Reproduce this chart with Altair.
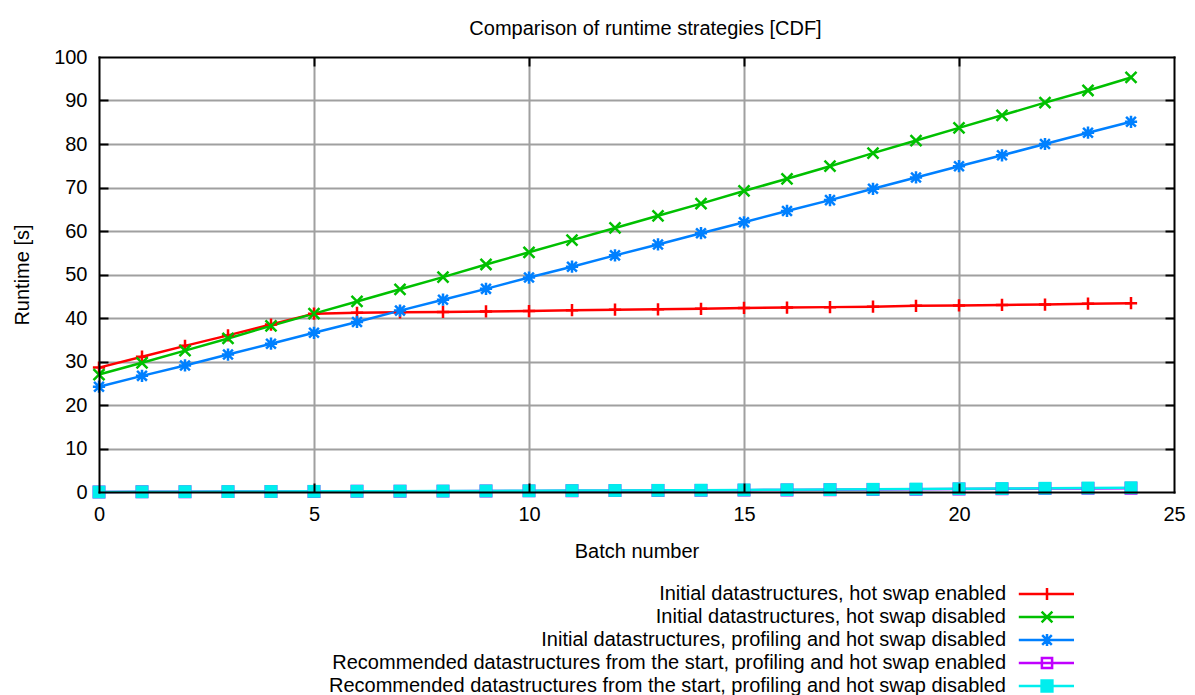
import altair as alt
import pandas as pd

# Batch numbers on the x axis
batch = [0, 1, 2, 3, 4, 5, 6, 7, 8, 9, 10, 11, 12, 13, 14, 15, 16, 17, 18, 19, 20, 21, 22, 23, 24]

# Cumulative runtime [s] per strategy
hot_swap_enabled = [28.6, 31.1, 33.6, 36.0, 38.5, 41.0, 41.2, 41.3, 41.4, 41.5, 41.6, 41.8, 41.9,
                    42.0, 42.1, 42.3, 42.4, 42.5, 42.6, 42.8, 42.9, 43.0, 43.1, 43.3, 43.4]
hot_swap_disabled = [27.0, 29.7, 32.5, 35.3, 38.2, 41.0, 43.8, 46.6, 49.4, 52.3, 55.1, 57.9, 60.7,
                     63.5, 66.3, 69.2, 72.0, 74.9, 77.9, 80.8, 83.7, 86.6, 89.5, 92.3, 95.3]
profiling_hot_swap_disabled = [24.2, 26.7, 29.1, 31.6, 34.1, 36.6, 39.1, 41.7, 44.2, 46.7, 49.3, 51.8, 54.4,
                               56.9, 59.5, 62.0, 64.6, 67.1, 69.7, 72.3, 74.9, 77.4, 80.0, 82.6, 85.1]
recommended_enabled = [0.0, 0.04, 0.07, 0.09, 0.11, 0.13, 0.16, 0.18, 0.2, 0.22, 0.25, 0.28, 0.31,
                       0.34, 0.38, 0.43, 0.47, 0.51, 0.56, 0.61, 0.68, 0.72, 0.78, 0.83, 0.88]
recommended_disabled = [0.0, 0.05, 0.08, 0.1, 0.12, 0.15, 0.18, 0.2, 0.22, 0.25, 0.28, 0.32, 0.35,
                        0.38, 0.42, 0.48, 0.52, 0.56, 0.62, 0.68, 0.75, 0.8, 0.86, 0.92, 0.98]

series_names = [
    "Initial datastructures, hot swap enabled",
    "Initial datastructures, hot swap disabled",
    "Initial datastructures, profiling and hot swap disabled",
    "Recommended datastructures from the start, profiling and hot swap enabled",
    "Recommended datastructures from the start, profiling and hot swap disabled",
]
series_values = [hot_swap_enabled, hot_swap_disabled, profiling_hot_swap_disabled,
                 recommended_enabled, recommended_disabled]
series_colors = ["#ff0000", "#00c000", "#0080ff", "#c000ff", "#00eeee"]

# Point markers (plus, cross, asterisk, open square, filled square)
markers = [
    "M-1,0H1M0,-1V1",
    "M-0.9,-0.9L0.9,0.9M-0.9,0.9L0.9,-0.9",
    "M-1,0H1M0,-1V1M-0.8,-0.8L0.8,0.8M-0.8,0.8L0.8,-0.8",
    "M-0.85,-0.85H0.85V0.85H-0.85Z",
    "M-1.05,-1.05H1.05V1.05H-1.05Z",
]
marker_filled = [False, False, False, False, True]

# Key samples: a line segment with the marker on top, drawn to the right of the label
key_symbols = [
    "M3.8,0H13M8.5,0M7.5,0H9.5M8.5,-1V1",
    "M3.8,0H13M7.6,-0.9L9.4,0.9M7.6,0.9L9.4,-0.9",
    "M3.8,0H13M7.5,0H9.5M8.5,-1V1M7.7,-0.8L9.3,0.8M7.7,0.8L9.3,-0.8",
    "M3.8,0H13M7.65,-0.85H9.35V0.85H7.65Z",
    "M3.8,0H7.6M9.4,0H13M7.6,-0.9H9.4V0.9H7.6Z",
]
key_fills = ["transparent", "transparent", "transparent", "transparent", "#00eeee"]

rows = []
for name, hexcol, values in zip(series_names, series_colors, series_values):
    for b, v in zip(batch, values):
        rows.append({"batch": b, "runtime": v, "series": name, "hex": hexcol})
df = pd.DataFrame(rows)

W, H = 1075, 435
FONT = "Liberation Sans"
FS = 20

x_scale = alt.Scale(domain=[0, 25], nice=False, zero=False)
y_scale = alt.Scale(domain=[0, 100], nice=False, zero=False)

x_ticks = [0, 5, 10, 15, 20, 25]
x_inner = [5, 10, 15, 20]
y_ticks = [0, 10, 20, 30, 40, 50, 60, 70, 80, 90, 100]
y_inner = [10, 20, 30, 40, 50, 60, 70, 80, 90]

# Grid only
x_grid = alt.Axis(orient="bottom", values=x_inner, grid=True, gridColor="#a0a0a0", gridWidth=2,
                  labels=False, ticks=False, domain=False, title=None, zindex=0)
y_grid = alt.Axis(orient="left", values=y_inner, grid=True, gridColor="#a0a0a0", gridWidth=2,
                  labels=False, ticks=False, domain=False, title=None, zindex=0)

# Labelled axes with the bottom and left border
x_main = alt.Axis(orient="bottom", values=x_ticks, grid=False, ticks=False, tickSize=0,
                  domain=True, domainColor="black", domainWidth=2, domainCap="square",
                  labelFont=FONT, labelFontSize=FS, labelColor="black", labelPadding=12,
                  labelFlush=False, labelOverlap=False,
                  title="Batch number", titleFont=FONT, titleFontSize=FS, titleFontWeight="normal",
                  titleColor="black", titleX=W / 2, titleY=59, titleBaseline="middle",
                  titleAlign="center", zindex=1)
y_main = alt.Axis(orient="left", values=y_ticks, grid=False, ticks=False, tickSize=0,
                  domain=True, domainColor="black", domainWidth=2, domainCap="square",
                  labelFont=FONT, labelFontSize=FS, labelColor="black", labelPadding=12,
                  labelFlush=False, labelOverlap=False,
                  title="Runtime [s]", titleFont=FONT, titleFontSize=FS, titleFontWeight="normal",
                  titleColor="black", titleX=-77, titleY=H / 2, titleAngle=270,
                  titleBaseline="middle", titleAlign="center", zindex=1)

# Inward ticks along the bottom and left border
x_in_near = alt.Axis(orient="top", offset=-H, values=x_inner, grid=False, labels=False, domain=False,
                     ticks=True, tickSize=9, tickWidth=2, tickColor="black", title=None, zindex=1)
y_in_near = alt.Axis(orient="right", offset=-W, values=y_inner, grid=False, labels=False, domain=False,
                     ticks=True, tickSize=9, tickWidth=2, tickColor="black", title=None, zindex=1)

# Inward ticks plus the top and right border
x_in_far = alt.Axis(orient="bottom", offset=-H, values=x_inner, grid=False, labels=False,
                    domain=True, domainColor="black", domainWidth=2, domainCap="square",
                    ticks=True, tickSize=9, tickWidth=2, tickColor="black", title=None, zindex=1)
y_in_far = alt.Axis(orient="left", offset=-W, values=y_inner, grid=False, labels=False,
                    domain=True, domainColor="black", domainWidth=2, domainCap="square",
                    ticks=True, tickSize=9, tickWidth=2, tickColor="black", title=None, zindex=1)

axis_pairs = [(x_main, y_main), (x_in_near, y_in_near), (x_in_far, y_in_far)]


def xy(x_axis, y_axis):
    return dict(
        x=alt.X("batch:Q", scale=x_scale, axis=x_axis),
        y=alt.Y("runtime:Q", scale=y_scale, axis=y_axis),
    )


base = alt.Chart(df)

# Series colours are taken straight from the "hex" column
lines = base.mark_line(strokeWidth=2.5).encode(
    color=alt.Color("hex:N", scale=None),
    detail="series:N",
    **xy(x_grid, y_grid),
)

layers = [lines]
for i, name in enumerate(series_names):
    xa, ya = axis_pairs[i] if i < len(axis_pairs) else (None, None)
    pts = base.transform_filter(alt.datum.series == name).mark_point(
        shape=markers[i], size=150, strokeWidth=2.5, filled=marker_filled[i], opacity=1
    ).encode(
        color=alt.Color("hex:N", scale=None),
        **xy(xa, ya),
    )
    layers.append(pts)

key_legend = alt.Legend(
    title=None, orient="none", legendX=841, legendY=527, padding=0,
    labelFont=FONT, labelFontSize=FS, labelColor="black", labelAlign="right",
    labelOffset=0, symbolOffset=46, labelLimit=1000, rowPadding=1,
    symbolSize=144, symbolStrokeWidth=2.5, symbolOpacity=1,
)

# Carrier of the key: its own marks stay invisible
key = base.mark_point(size=144, strokeWidth=2.5).encode(
    stroke=alt.Stroke("series:N", scale=alt.Scale(domain=series_names, range=series_colors), legend=key_legend),
    fill=alt.Fill("series:N", scale=alt.Scale(domain=series_names, range=key_fills), legend=key_legend),
    shape=alt.Shape("series:N", scale=alt.Scale(domain=series_names, range=key_symbols), legend=key_legend),
    opacity=alt.value(0),
    **xy(None, None),
)
layers.append(key)

chart = alt.layer(*layers).resolve_axis(x="independent", y="independent").properties(
    width=W,
    height=H,
    title=alt.Title("Comparison of runtime strategies [CDF]", font=FONT, fontSize=FS,
                    fontWeight="normal", color="black", anchor="middle", frame="group",
                    dx=9, dy=30, baseline="alphabetic", offset=22),
    autosize=alt.AutoSizeParams(type="none"),
    padding={"left": 99, "top": 57, "right": 21, "bottom": 203},
    background="white",
).configure_view(stroke=None)

chart.save("out.html", embed_options={"renderer": "svg", "actions": False})
